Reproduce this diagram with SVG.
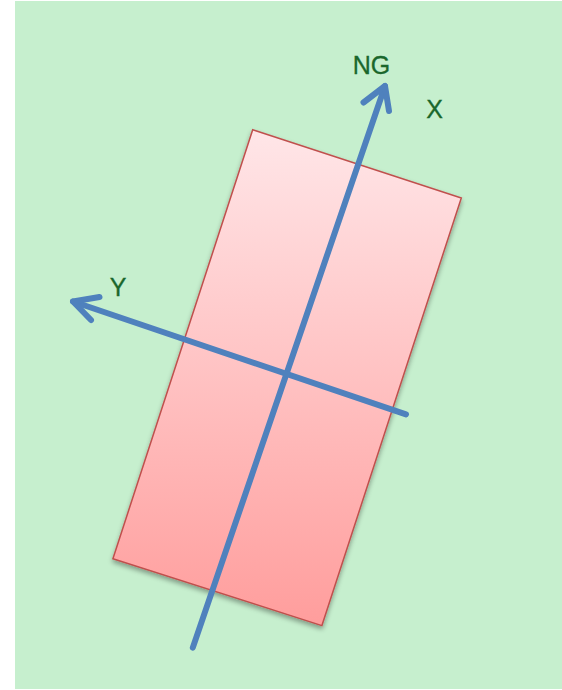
<svg xmlns="http://www.w3.org/2000/svg" width="562" height="690" viewBox="0 0 562 690">
  <defs>
    <linearGradient id="pinkGrad" x1="0" y1="130" x2="0" y2="627" gradientUnits="userSpaceOnUse">
      <stop offset="0" stop-color="#ffe6e8"/>
      <stop offset="1" stop-color="#ff9d9c"/>
    </linearGradient>
    <filter id="shadow" x="-20%" y="-20%" width="140%" height="140%">
      <feGaussianBlur in="SourceAlpha" stdDeviation="2.5"/>
      <feOffset dx="0" dy="3" result="b"/>
      <feComponentTransfer><feFuncA type="linear" slope="0.35"/></feComponentTransfer>
      <feMerge><feMergeNode/><feMergeNode in="SourceGraphic"/></feMerge>
    </filter>
  </defs>
  <style>
    .axis { stroke: #4f81bd; stroke-width: 6; fill: none; stroke-linecap: round; stroke-linejoin: round; }
    .lbl { font-family: "Liberation Sans", Arial, sans-serif; font-size: 25px; fill: #1a672c; stroke: #1a672c; stroke-width: 0.3; text-anchor: middle; }
  </style>
  <rect x="15" y="1" width="547" height="688" fill="#c6efce"/>
  <g id="plate">
    <polygon points="252.7,129.8 461.3,198 321.9,625.6 112.9,558.7" fill="url(#pinkGrad)" stroke="#c0504d" stroke-width="1.5" filter="url(#shadow)"/>
  </g>
  <g id="connectors">
    <line class="axis" x1="192.8" y1="647.6" x2="385" y2="86"/>
    <polyline class="axis" points="363.5,102.5 385,86 389,111"/>
    <line class="axis" x1="406" y1="414.4" x2="73" y2="301.5"/>
    <polyline class="axis" points="99.5,297 73,301.5 91,320"/>
  </g>
  <g id="label-ng"><text class="lbl" x="371.5" y="74">NG</text></g>
  <g id="label-x"><text class="lbl" x="434.7" y="118">X</text></g>
  <g id="label-y"><text class="lbl" x="118" y="296">Y</text></g>
</svg>
